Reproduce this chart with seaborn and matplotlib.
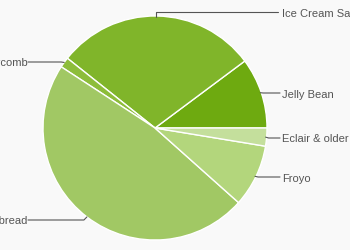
import numpy as np
import matplotlib
matplotlib.use("Agg")
import matplotlib.pyplot as plt
import seaborn as sns

labels = ["Jelly Bean", "Ice Cream Sandwich", "Honeycomb", "Gingerbread", "Froyo", "Eclair & older"]
values = [10.2, 29.1, 1.5, 47.6, 9.0, 2.6]
colors = ["#6eaa10", "#80b52a", "#8dbd3a", "#a1c864", "#b3d67c", "#c4df9c"]

sns.set_theme(style="white")
plt.rcParams["font.family"] = ["Liberation Sans", "DejaVu Sans"]

fig = plt.figure(figsize=(3.5, 2.5), dpi=100, facecolor="#f9f9f9")
ax = fig.add_axes([0, 0, 1, 1])
ax.set_facecolor("#f9f9f9")

R = 112
wedges, _ = ax.pie(values, colors=colors, radius=R, startangle=0, counterclock=True,
                   wedgeprops=dict(edgecolor="white", linewidth=1.0))
ax.set_xlim(-155, 195)
ax.set_ylim(-122, 128)
ax.set_aspect("auto")
ax.axis("off")

line_c = "#555555"
text_c = "#555555"
for w, lab in zip(wedges, labels):
    mid = np.deg2rad((w.theta1 + w.theta2) / 2)
    if lab == "Ice Cream Sandwich":
        mid = np.deg2rad(89.5)
    x0, y0 = R * np.cos(mid), R * np.sin(mid)
    if x0 >= 0:
        if lab == "Ice Cream Sandwich":
            ty = y0 + 4
            xs = [x0, x0, 123]
            ys = [y0 - 1, ty, ty]
        else:
            ty = round(y0) - (1 if y0 < 0 else 0)
            xs = [x0 - 1, x0 + 2, 125]
            ys = [y0, ty, ty]
        ax.plot(xs, ys, color=line_c, lw=0.8, clip_on=False)
        ax.text(127, ty - 0.5, lab, color=text_c, fontsize=8, ha="left", va="center_baseline")
    else:
        ty = round(y0) - (3 if y0 < 0 else 0)
        xs = [x0, x0 - 3, -127]
        ys = [y0, ty, ty]
        ax.plot(xs, ys, color=line_c, lw=0.8, clip_on=False)
        ax.text(-127, ty - 0.5, lab, color=text_c, fontsize=8, ha="right", va="center_baseline")

fig.savefig("out.png", dpi=100, facecolor=fig.get_facecolor())
